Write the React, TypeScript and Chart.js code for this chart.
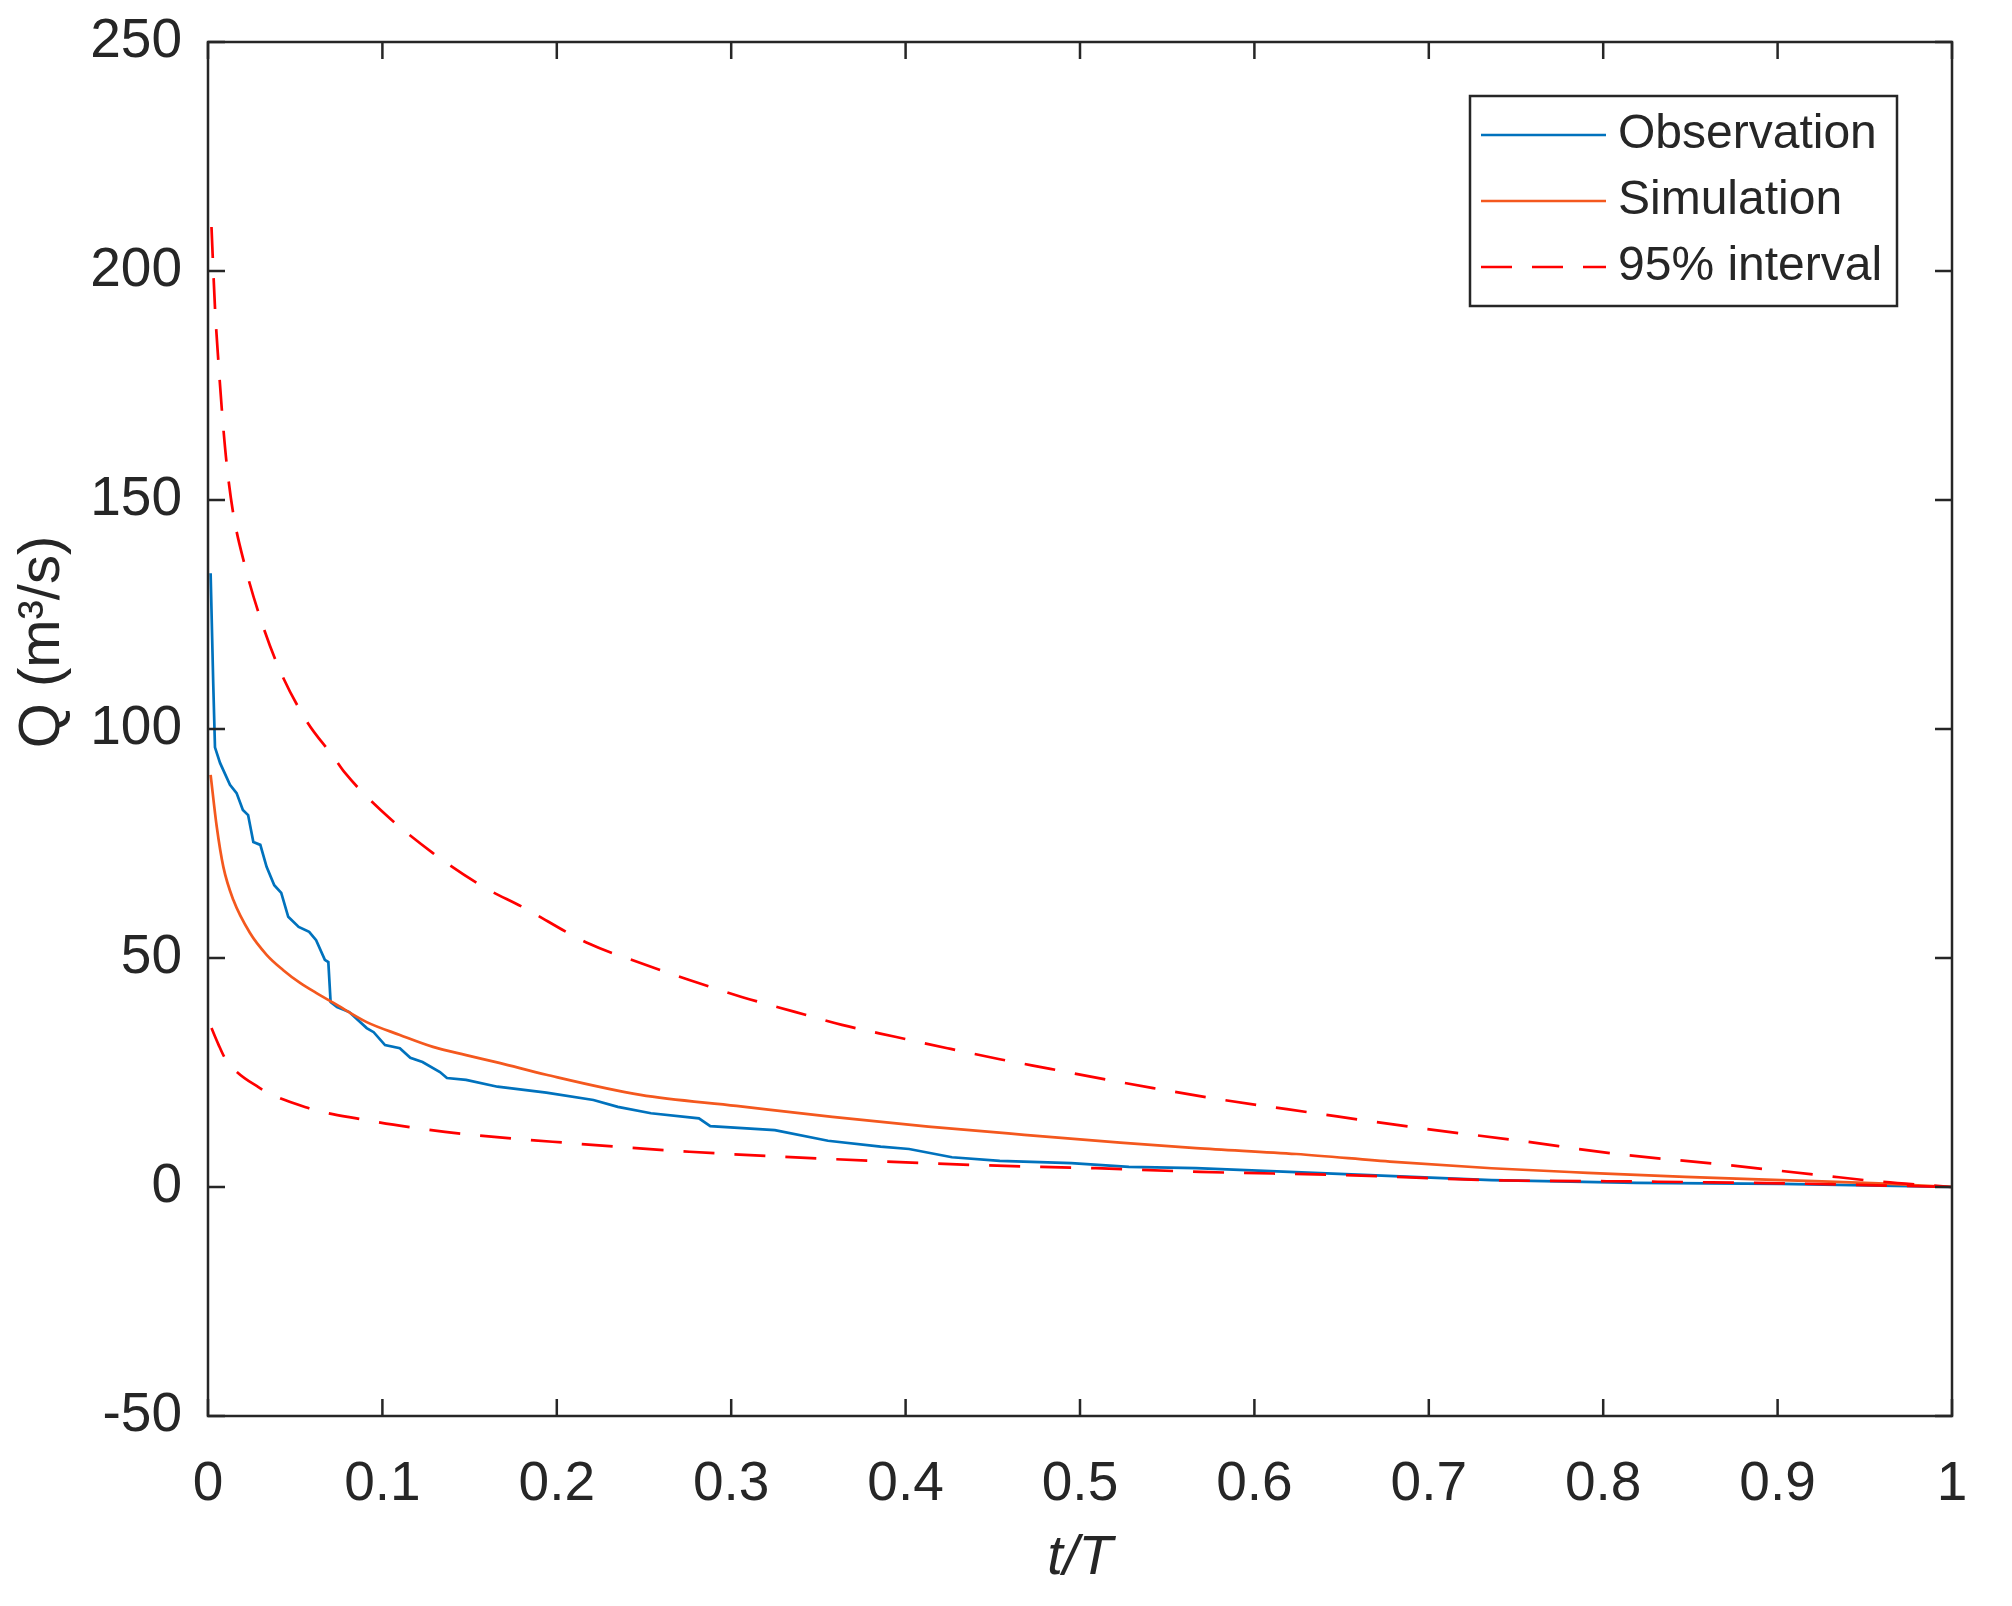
import { useEffect, useRef } from 'react';
import { Chart, registerables } from 'chart.js';

Chart.register(...registerables);

// flow duration curve
const obsT = [0.0015, 0.003, 0.004, 0.0069, 0.0126, 0.0164, 0.02, 0.023, 0.026, 0.03, 0.0336, 0.038, 0.042, 0.046, 0.052, 0.058, 0.062, 0.067, 0.069, 0.0703, 0.074, 0.081, 0.091, 0.095, 0.1015, 0.11, 0.116, 0.123, 0.133, 0.137, 0.148, 0.166, 0.194, 0.221, 0.235, 0.254, 0.2815, 0.288, 0.325, 0.3555, 0.3857, 0.402, 0.4266, 0.454, 0.495, 0.528, 0.5665, 0.652, 0.736, 0.819, 0.902, 1];
const obsQ = [134, 110, 96, 92.6, 87.8, 86, 82.3, 81.2, 75.3, 74.7, 69.9, 65.9, 64.2, 59, 56.8, 55.7, 53.9, 49.6, 49.1, 40.4, 39.3, 38.2, 34.7, 33.8, 31, 30.3, 28.2, 27.3, 25.1, 23.8, 23.4, 21.9, 20.6, 19, 17.5, 16.1, 15, 13.3, 12.4, 10.1, 8.8, 8.3, 6.5, 5.7, 5.2, 4.4, 4.1, 2.8, 1.5, 0.9, 0.7, 0];

const simT = [0.0015, 0.005, 0.0088, 0.0145, 0.024, 0.0336, 0.043, 0.053, 0.062, 0.072, 0.091, 0.11, 0.129, 0.148, 0.167, 0.194, 0.248, 0.303, 0.358, 0.413, 0.468, 0.523, 0.5665, 0.624, 0.68, 0.736, 0.791, 0.847, 0.902, 0.958, 1];
const simQ = [90, 78.7, 69.9, 62.7, 55.5, 50.7, 47.4, 44.5, 42.4, 40.2, 36, 33.2, 30.6, 28.8, 27.1, 24.5, 20.1, 17.7, 15.3, 13.2, 11.4, 9.7, 8.5, 7.2, 5.5, 4.1, 3.1, 2.2, 1.5, 0.8, 0];

const upperT = [0.002, 0.004, 0.006, 0.008, 0.0107, 0.0145, 0.0212, 0.03, 0.041, 0.0566, 0.072, 0.0786, 0.099, 0.129, 0.158, 0.18, 0.218, 0.248, 0.276, 0.306, 0.336, 0.3635, 0.394, 0.424, 0.454, 0.483, 0.513, 0.542, 0.574, 0.635, 0.694, 0.752, 0.808, 0.866, 0.924, 0.958, 1];
const upperQ = [209.6, 192, 180, 169.4, 157.9, 147, 135.6, 124.2, 113, 101.7, 93.9, 90.4, 82.3, 72.9, 65.5, 61.2, 53.2, 48.9, 45.2, 41.5, 38.3, 35.4, 32.8, 30.3, 27.9, 25.8, 23.6, 21.6, 19.5, 16.1, 12.9, 10.1, 7.2, 5, 2.6, 1.2, 0];

const lowerT = [0.002, 0.0059, 0.0097, 0.0289, 0.0579, 0.0876, 0.117, 0.1487, 0.207, 0.276, 0.358, 0.44, 0.509, 0.569, 0.652, 0.736, 0.819, 0.902, 1];
const lowerQ = [34.7, 31.2, 28.2, 21.8, 17.2, 14.8, 13, 11.5, 9.6, 7.7, 6.1, 4.8, 4.1, 3.3, 2.6, 1.5, 1.2, 0.8, 0];

const xTicks = [0, 0.1, 0.2, 0.3, 0.4, 0.5, 0.6, 0.7, 0.8, 0.9, 1];
const xTickLabels = ['0', '0.1', '0.2', '0.3', '0.4', '0.5', '0.6', '0.7', '0.8', '0.9', '1'];
const yTicks = [-50, 0, 50, 100, 150, 200, 250];
const yTickLabels = ['-50', '0', '50', '100', '150', '200', '250'];
const legendLabels = ['Observation', 'Simulation', '95% interval'];

const AXIS = '#262626';
const FONT = "'Liberation Sans', Arial, sans-serif";
const TICK_LEN = 17;

const toPoints = (t: number[], q: number[]) => t.map((v, i) => ({ x: v, y: q[i] }));

// box, inward ticks on all four sides, rotated y label
const framePlugin = {
  id: 'frame',
  afterDatasetsDraw(chart: any) {
    const { ctx, chartArea: a, scales } = chart;
    const x = scales.x;
    const y = scales.y;
    ctx.save();
    ctx.strokeStyle = AXIS;
    ctx.lineWidth = 2.5;
    ctx.beginPath();
    xTicks.forEach((v) => {
      const px = x.getPixelForValue(v);
      ctx.moveTo(px, a.bottom);
      ctx.lineTo(px, a.bottom - TICK_LEN);
      ctx.moveTo(px, a.top);
      ctx.lineTo(px, a.top + TICK_LEN);
    });
    yTicks.forEach((v) => {
      const py = y.getPixelForValue(v);
      ctx.moveTo(a.left, py);
      ctx.lineTo(a.left + TICK_LEN, py);
      ctx.moveTo(a.right, py);
      ctx.lineTo(a.right - TICK_LEN, py);
    });
    ctx.stroke();
    ctx.strokeRect(a.left, a.top, a.right - a.left, a.bottom - a.top);

    ctx.translate(43, 642);
    ctx.rotate(-Math.PI / 2);
    ctx.font = `58px ${FONT}`;
    ctx.fillStyle = AXIS;
    ctx.textAlign = 'center';
    ctx.textBaseline = 'middle';
    ctx.fillText('Q (m\u00b3/s)', 0, 0);
    ctx.restore();
  },
};

// matlab-like legend box in the top right corner
const legendPlugin = {
  id: 'boxLegend',
  afterDatasetsDraw(chart: any) {
    const { ctx, chartArea: a } = chart;
    const right = a.right - 55;
    const left = right - 427;
    const top = a.top + 54;
    const bottom = top + 210;
    ctx.save();
    ctx.fillStyle = '#ffffff';
    ctx.fillRect(left, top, right - left, bottom - top);
    ctx.strokeStyle = AXIS;
    ctx.lineWidth = 2.5;
    ctx.strokeRect(left, top, right - left, bottom - top);

    ctx.font = `48px ${FONT}`;
    ctx.textBaseline = 'middle';
    ctx.textAlign = 'left';
    legendLabels.forEach((label, i) => {
      const ds = chart.data.datasets.find((d: any) => d.label === label);
      const rowY = top + 39 + i * 66;
      ctx.save();
      ctx.strokeStyle = ds.borderColor;
      ctx.lineWidth = ds.borderWidth;
      ctx.setLineDash(ds.borderDash || []);
      ctx.beginPath();
      ctx.moveTo(left + 11, rowY);
      ctx.lineTo(left + 136, rowY);
      ctx.stroke();
      ctx.restore();
      ctx.fillStyle = AXIS;
      ctx.fillText(label, left + 148, rowY);
    });
    ctx.restore();
  },
};

export default function App() {
  const canvasRef = useRef<HTMLCanvasElement>(null);
  const chartRef = useRef<Chart | null>(null);

  useEffect(() => {
    if (!canvasRef.current) return;
    if (chartRef.current) chartRef.current.destroy();

    chartRef.current = new Chart(canvasRef.current, {
      type: 'line',
      data: {
        datasets: [
          {
            label: 'Observation',
            data: toPoints(obsT, obsQ),
            borderColor: '#0072BD',
            borderWidth: 2.7,
            pointRadius: 0,
            tension: 0,
            order: 4,
          },
          {
            label: 'Simulation',
            data: toPoints(simT, simQ),
            borderColor: '#F4581E',
            borderWidth: 2.7,
            pointRadius: 0,
            cubicInterpolationMode: 'monotone',
            order: 3,
          },
          {
            label: '95% interval',
            data: toPoints(upperT, upperQ),
            borderColor: '#FF0000',
            borderWidth: 2.7,
            borderDash: [31, 20],
            pointRadius: 0,
            cubicInterpolationMode: 'monotone',
            order: 2,
          },
          {
            label: '95% interval (lower)',
            data: toPoints(lowerT, lowerQ),
            borderColor: '#FF0000',
            borderWidth: 2.7,
            borderDash: [31, 20],
            pointRadius: 0,
            cubicInterpolationMode: 'monotone',
            order: 1,
          },
        ],
      } as any,
      options: {
        responsive: false,
        animation: false,
        devicePixelRatio: 1,
        layout: { padding: { left: 0, right: 60, top: 42, bottom: 0 } },
        plugins: {
          legend: { display: false },
          tooltip: { enabled: false },
        },
        scales: {
          x: {
            type: 'linear',
            min: 0,
            max: 1,
            afterBuildTicks: (s: any) => {
              s.ticks = xTicks.map((v) => ({ value: v }));
            },
            afterFit: (s: any) => {
              s.height = 190;
              s.paddingLeft = 0;
              s.paddingRight = 0;
            },
            ticks: {
              callback: (_v: any, i: number) => xTickLabels[i],
              font: { size: 55, family: FONT },
              color: AXIS,
              padding: 36,
              maxRotation: 0,
              autoSkip: false,
            },
            grid: { display: false, drawTicks: false },
            border: { display: false },
            title: {
              display: true,
              text: 't/T',
              font: { size: 56, style: 'italic', family: FONT },
              color: AXIS,
              padding: { top: 0, bottom: 14 },
            },
          },
          y: {
            type: 'linear',
            min: -50,
            max: 250,
            afterBuildTicks: (s: any) => {
              s.ticks = yTicks.map((v) => ({ value: v }));
            },
            afterFit: (s: any) => {
              s.width = 208;
              s.paddingTop = 0;
              s.paddingBottom = 0;
            },
            ticks: {
              callback: (_v: any, i: number) => yTickLabels[i],
              font: { size: 55, family: FONT },
              color: AXIS,
              padding: 26,
              autoSkip: false,
            },
            grid: { display: false, drawTicks: false },
            border: { display: false },
          },
        },
      } as any,
      plugins: [framePlugin, legendPlugin],
    });

    return () => {
      if (chartRef.current) {
        chartRef.current.destroy();
        chartRef.current = null;
      }
    };
  }, []);

  return (
    <div style={{ position: 'fixed', left: 0, top: 0, width: 2012, height: 1606, background: '#fff' }}>
      <canvas ref={canvasRef} width={2012} height={1606} style={{ display: 'block' }}></canvas>
    </div>
  );
}
